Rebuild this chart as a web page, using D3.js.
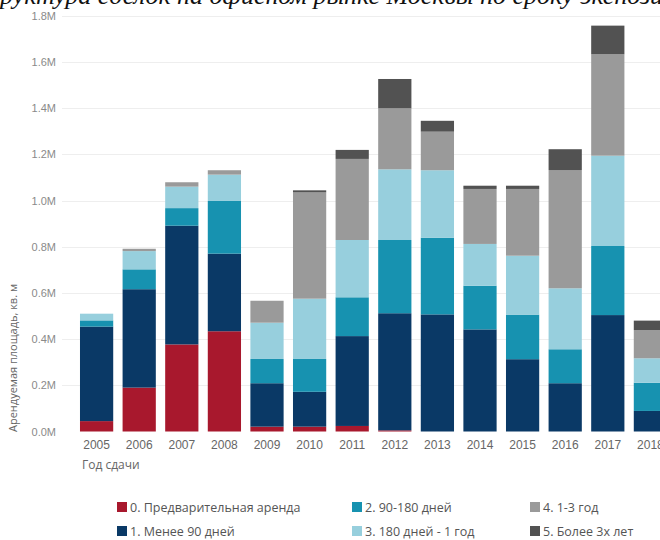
<!DOCTYPE html>
<html lang="ru">
  <head>
    <meta charset="UTF-8" />
    <title>Структура сделок по сроку экспозиции</title>
    <script src="https://cdn.jsdelivr.net/npm/d3@7"></script>
    <style>
      body { margin: 0; background: #fff; }
      svg { display: block; font-family: 'Open Sans', sans-serif; }
    </style>
  </head>
  <body>
    <div id="chart"></div>
    <script>
      // годы сдачи и площадь сделок (млн кв. м) по сроку экспозиции
      const years = ['2005', '2006', '2007', '2008', '2009', '2010', '2011',
        '2012', '2013', '2014', '2015', '2016', '2017', '2018'];
      const preLease = [0.045, 0.19, 0.377, 0.434, 0.021, 0.021, 0.024, 0.005, 0, 0, 0, 0, 0, 0];
      const under90 = [0.409, 0.426, 0.514, 0.336, 0.188, 0.151, 0.389, 0.507, 0.507, 0.442, 0.313, 0.209, 0.504, 0.089];
      const d90to180 = [0.027, 0.086, 0.076, 0.228, 0.105, 0.142, 0.168, 0.317, 0.332, 0.189, 0.193, 0.147, 0.299, 0.122];
      const d180to1y = [0.029, 0.079, 0.093, 0.114, 0.157, 0.261, 0.248, 0.306, 0.292, 0.181, 0.255, 0.264, 0.391, 0.106];
      const y1to3 = [0, 0.01, 0.019, 0.019, 0.095, 0.46, 0.351, 0.264, 0.167, 0.238, 0.289, 0.512, 0.439, 0.122];
      const over3 = [0, 0, 0, 0, 0, 0.009, 0.039, 0.127, 0.047, 0.014, 0.014, 0.09, 0.124, 0.041];
      const seriesNames = ['0. Предварительная аренда', '1. Менее 90 дней', '2. 90-180 дней',
        '3. 180 дней - 1 год', '4. 1-3 год', '5. Более 3х лет'];
      const yTicks = [0, 0.2, 0.4, 0.6, 0.8, 1.0, 1.2, 1.4, 1.6, 1.8];

      const colors = ['#a8182d', '#0a3966', '#1792b0', '#97cfdd', '#9a9a9a', '#525252'];
      const allSeries = [preLease, under90, d90to180, d180to1y, y1to3, over3];

      const data = years.map((yr, i) => {
        const row = { year: yr };
        seriesNames.forEach((n, k) => (row[n] = allSeries[k][i]));
        return row;
      });

      const width = 660, height = 540;
      const svg = d3.select('#chart').append('svg')
        .attr('width', width).attr('height', height);

      // заголовок (обрезан сверху, как на исходной картинке)
      const title = svg.append('text')
        .attr('y', 4)
        .style('font-family', "'Liberation Serif', serif")
        .style('font-style', 'italic')
        .style('font-size', '26px')
        .attr('fill', '#111')
        .text('Структура сделок на офисном рынке Москвы по сроку экспозиции');
      const shift = title.node().getSubStringLength(0, 2);
      title.attr('x', -shift);

      const x = d3.scaleBand()
        .domain(years)
        .range([75.3, 671.7])
        .paddingInner(0.22)
        .paddingOuter(0.11);

      const y = d3.scaleLinear().domain([0, 1.8]).range([431.5, 15.7]);

      // сетка
      svg.append('g').selectAll('line')
        .data(yTicks.slice(1))
        .join('line')
        .attr('x1', 62).attr('x2', width)
        .attr('y1', (d) => Math.round(y(d)) + 0.5)
        .attr('y2', (d) => Math.round(y(d)) + 0.5)
        .attr('stroke', '#eeeeee');

      const yAxis = svg.append('g')
        .attr('transform', 'translate(56,0)')
        .call(d3.axisLeft(y).tickValues(yTicks).tickSize(0).tickPadding(0)
          .tickFormat((d) => d3.format('.1f')(d) + 'M'));
      yAxis.select('.domain').remove();
      yAxis.selectAll('text').attr('fill', '#8a8a8a').style('font-size', '11px');

      const stack = d3.stack().keys(seriesNames);
      const layers = stack(data);

      svg.append('g').selectAll('g')
        .data(layers)
        .join('g')
        .attr('fill', (d, i) => colors[i])
        .selectAll('rect')
        .data((d) => d)
        .join('rect')
        .attr('x', (d) => x(d.data.year))
        .attr('width', x.bandwidth())
        .attr('y', (d) => y(d[1]))
        .attr('height', (d) => Math.max(0, y(d[0]) - y(d[1])));

      const xAxis = svg.append('g')
        .attr('transform', 'translate(0,432)')
        .call(d3.axisBottom(x).tickSize(0).tickPadding(8));
      xAxis.select('.domain').remove();
      xAxis.selectAll('text').attr('fill', '#666').style('font-size', '12px');

      svg.append('text')
        .attr('x', 82).attr('y', 469)
        .attr('fill', '#666')
        .style('font-size', '12px')
        .text('Год сдачи');

      svg.append('text')
        .attr('transform', 'translate(17,358) rotate(-90)')
        .attr('text-anchor', 'middle')
        .attr('fill', '#666')
        .style('font-size', '11px')
        .text('Арендуемая площадь, кв. м');

      // легенда
      const legendPos = [[117, 508], [117, 532], [352, 508], [352, 532], [530, 508], [530, 532]];
      const legend = svg.append('g').selectAll('g')
        .data(seriesNames)
        .join('g')
        .attr('transform', (d, i) => `translate(${legendPos[i][0]},${legendPos[i][1]})`);
      legend.append('rect')
        .attr('x', 0).attr('y', -6).attr('width', 10).attr('height', 10)
        .attr('fill', (d, i) => colors[i]);
      legend.append('text')
        .attr('x', 13).attr('y', 4)
        .attr('fill', '#555')
        .style('font-size', '12.5px')
        .text((d) => d);
    </script>
  </body>
</html>
